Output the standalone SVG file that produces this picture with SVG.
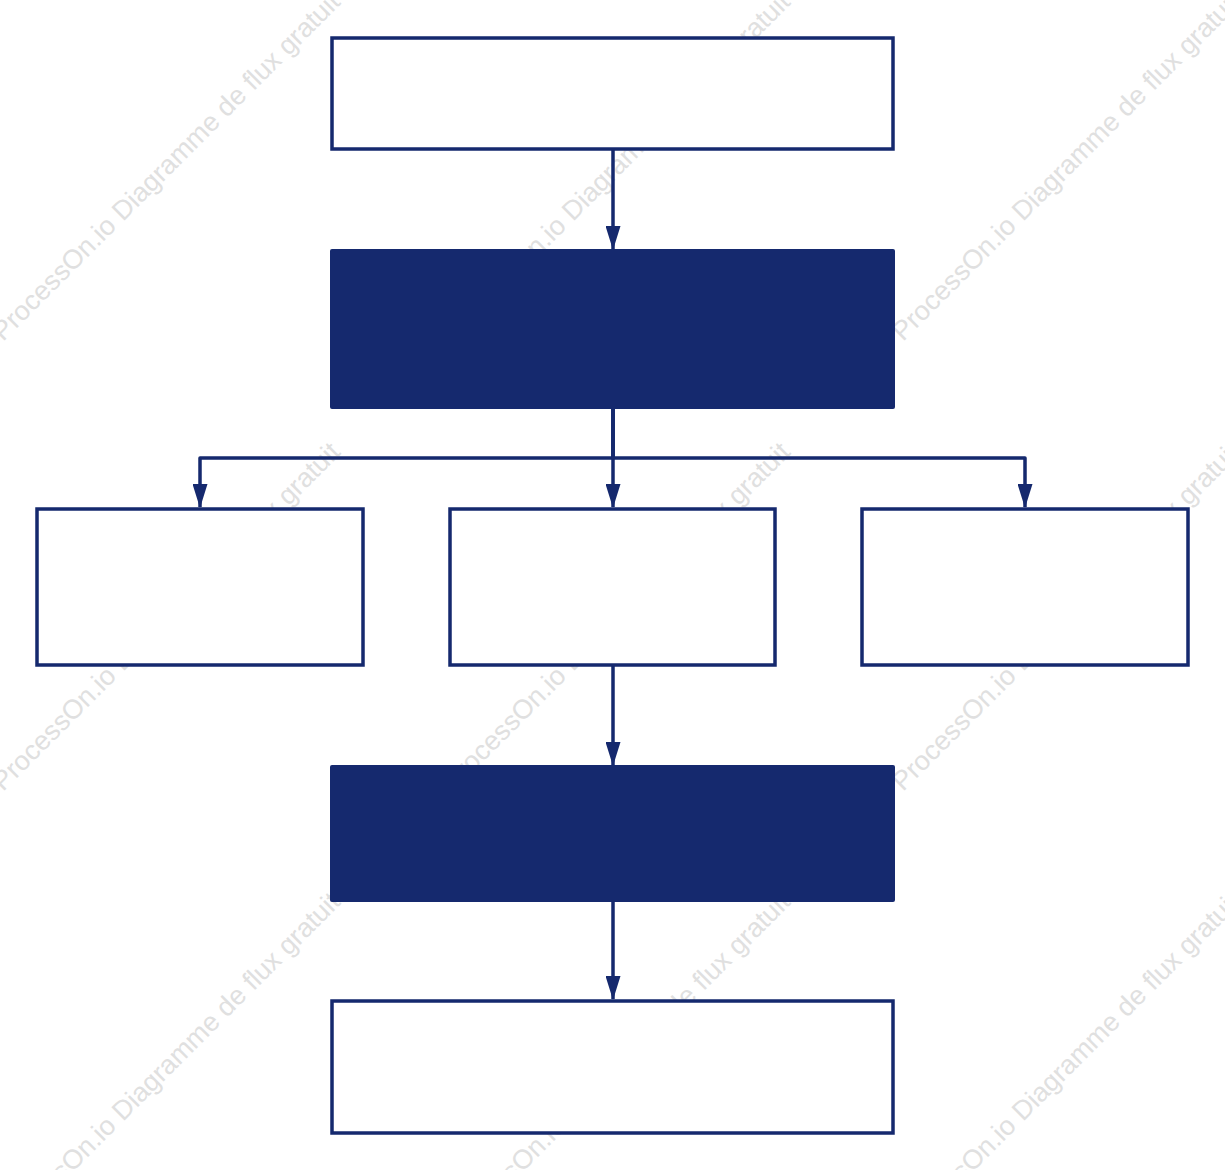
<svg xmlns="http://www.w3.org/2000/svg" width="1225" height="1170" viewBox="0 0 1225 1170">
<style>
.wm{font-family:"Liberation Sans",Arial,sans-serif;font-size:27px;fill:#e0e0e0}
.box{fill:#ffffff;stroke:#15296e;stroke-width:3.5}
.fill{fill:#15296e;stroke:none}
.edge{fill:none;stroke:#15296e;stroke-width:3.5;stroke-linejoin:round}
</style>
<defs>
<marker id="arr" viewBox="0 0 24 15" refX="23" refY="7.5" markerWidth="24" markerHeight="15" markerUnits="userSpaceOnUse" orient="auto">
<path d="M0,0 L24,7.5 L0,15 Z" fill="#15296e"/>
</marker>
</defs>
<rect width="1225" height="1170" fill="#ffffff"/>
<g id="watermark">
<text class="wm" transform="translate(3,342) rotate(-45)">ProcessOn.io Diagramme de flux gratuit</text>
<text class="wm" transform="translate(453,342) rotate(-45)">ProcessOn.io Diagramme de flux gratuit</text>
<text class="wm" transform="translate(903,342) rotate(-45)">ProcessOn.io Diagramme de flux gratuit</text>
<text class="wm" transform="translate(3,792) rotate(-45)">ProcessOn.io Diagramme de flux gratuit</text>
<text class="wm" transform="translate(453,792) rotate(-45)">ProcessOn.io Diagramme de flux gratuit</text>
<text class="wm" transform="translate(903,792) rotate(-45)">ProcessOn.io Diagramme de flux gratuit</text>
<text class="wm" transform="translate(3,1242) rotate(-45)">ProcessOn.io Diagramme de flux gratuit</text>
<text class="wm" transform="translate(453,1242) rotate(-45)">ProcessOn.io Diagramme de flux gratuit</text>
<text class="wm" transform="translate(903,1242) rotate(-45)">ProcessOn.io Diagramme de flux gratuit</text>
</g>
<g id="connectors">
<path class="edge" d="M613,149 L613,249" marker-end="url(#arr)"/>
<path class="edge" d="M613,408 L613,458 L200,458 L200,507" marker-end="url(#arr)"/>
<path class="edge" d="M613,408 L613,507" marker-end="url(#arr)"/>
<path class="edge" d="M613,408 L613,458 L1025,458 L1025,507" marker-end="url(#arr)"/>
<path class="edge" d="M613,665 L613,765" marker-end="url(#arr)"/>
<path class="edge" d="M613,901 L613,999" marker-end="url(#arr)"/>
</g>
<g id="node1"><rect class="box" x="332" y="38" width="561" height="111"/></g>
<g id="node2"><rect class="fill" x="330" y="249" width="565" height="160" rx="2"/></g>
<g id="node3"><rect class="box" x="37" y="509" width="326" height="156"/></g>
<g id="node4"><rect class="box" x="450" y="509" width="325" height="156"/></g>
<g id="node5"><rect class="box" x="862" y="509" width="326" height="156"/></g>
<g id="node6"><rect class="fill" x="330" y="765" width="565" height="137" rx="2"/></g>
<g id="node7"><rect class="box" x="332" y="1001" width="561" height="132"/></g>
</svg>
